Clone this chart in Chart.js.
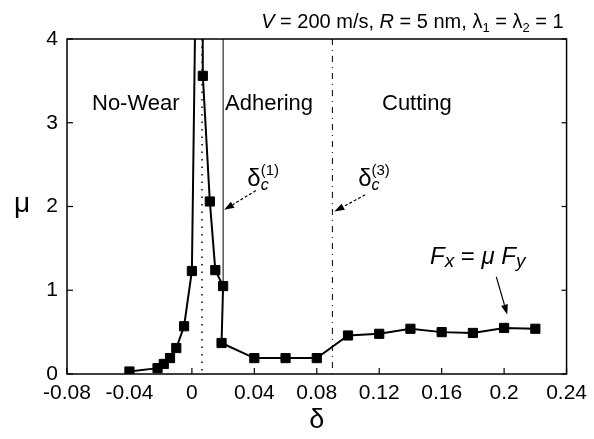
<!DOCTYPE html>
<html><head><meta charset="utf-8">
<script src="https://cdn.jsdelivr.net/npm/chart.js@4"></script>
<style>html,body{margin:0;padding:0;background:#fff}canvas{display:block}</style>
</head><body>
<canvas id="c" width="594" height="439"></canvas>
<script>
// ---- data ----
const deltaValues = [-0.04, -0.022, -0.018, -0.014, -0.01, -0.005, 0, 0.0062, 0.007, 0.0115, 0.015, 0.02, 0.019, 0.04, 0.06, 0.08, 0.1, 0.12, 0.14, 0.16, 0.18, 0.2, 0.22];
const muValues    = [0.03, 0.07, 0.12, 0.19, 0.31, 0.57, 1.23, 10.0, 3.56, 2.06, 1.24, 1.05, 0.37, 0.19, 0.19, 0.19, 0.46, 0.48, 0.54, 0.50, 0.49, 0.55, 0.54];
const xTickLabels = ['-0.08', '-0.04', '0', '0.04', '0.08', '0.12', '0.16', '0.2', '0.24'];
const yTickLabels = ['0', '1', '2', '3', '4'];
const regionLabels = ['No-Wear', 'Adhering', 'Cutting'];
const deltaNoWear = 0.0065;
const deltaC1 = 0.02;
const deltaC1Top = 1.05;
const deltaC3 = 0.09;

const FONT = '"Liberation Sans", Arial, sans-serif';

function drawRich(ctx, x, y, segs, align) {
  let w = 0;
  segs.forEach(s => { ctx.font = s.font; s.w = ctx.measureText(s.t).width; w += s.w + (s.gap || 0); });
  let cx = align === 'right' ? x - w : align === 'center' ? x - w / 2 : x;
  ctx.textBaseline = 'alphabetic';
  ctx.textAlign = 'left';
  segs.forEach(s => { ctx.font = s.font; ctx.fillText(s.t, cx, y + (s.dy || 0)); cx += s.w + (s.gap || 0); });
}
function arrow(ctx, x1, y1, x2, y2, dash) {
  const a = Math.atan2(y2 - y1, x2 - x1), L = 10, W = 3.5;
  const bx = x2 - L * Math.cos(a), by = y2 - L * Math.sin(a);
  ctx.save();
  ctx.lineWidth = 1.2;
  ctx.setLineDash(dash || []);
  ctx.beginPath(); ctx.moveTo(x1, y1); ctx.lineTo(bx, by); ctx.stroke();
  ctx.setLineDash([]);
  ctx.beginPath();
  ctx.moveTo(x2, y2);
  ctx.lineTo(bx + W * Math.sin(a), by - W * Math.cos(a));
  ctx.lineTo(bx - W * Math.sin(a), by + W * Math.cos(a));
  ctx.closePath(); ctx.fill();
  ctx.restore();
}

const decor = {
  id: 'decor',
  beforeDatasetsDraw(chart) {
    const {ctx, chartArea: ca, scales: {x, y}} = chart;
    ctx.save();
    ctx.strokeStyle = '#000';
    ctx.lineWidth = 1.5;
    ctx.setLineDash([1.5, 6]);
    let px = x.getPixelForValue(deltaNoWear);
    ctx.beginPath(); ctx.moveTo(px, ca.top); ctx.lineTo(px, ca.bottom); ctx.stroke();
    ctx.setLineDash([]);
    ctx.lineWidth = 1;
    px = x.getPixelForValue(deltaC1);
    ctx.beginPath(); ctx.moveTo(px, ca.top); ctx.lineTo(px, y.getPixelForValue(deltaC1Top)); ctx.stroke();
    ctx.setLineDash([6, 5, 1, 5]);
    px = x.getPixelForValue(deltaC3);
    ctx.beginPath(); ctx.moveTo(px, ca.top); ctx.lineTo(px, ca.bottom); ctx.stroke();
    ctx.restore();
  },
  afterDatasetsDraw(chart) {
    const {ctx, chartArea: ca, scales: {x, y}} = chart;
    ctx.save();
    ctx.fillStyle = '#000'; ctx.strokeStyle = '#000';
    ctx.lineWidth = 1.5;
    ctx.strokeRect(ca.left, ca.top, ca.right - ca.left, ca.bottom - ca.top);
    ctx.lineWidth = 1.2;
    x.ticks.forEach(t => {
      const p = x.getPixelForValue(t.value);
      ctx.beginPath(); ctx.moveTo(p, ca.bottom); ctx.lineTo(p, ca.bottom - 6); ctx.stroke();
    });
    y.ticks.forEach(t => {
      const p = y.getPixelForValue(t.value);
      ctx.beginPath(); ctx.moveTo(ca.left, p); ctx.lineTo(ca.left + 6, p); ctx.stroke();
      ctx.beginPath(); ctx.moveTo(ca.right, p); ctx.lineTo(ca.right - 5, p); ctx.stroke();
    });
    ctx.font = '28px ' + FONT; ctx.textAlign = 'center'; ctx.textBaseline = 'alphabetic';
    ctx.fillText('μ', 22, 212);
    ctx.font = '22px ' + FONT; ctx.textAlign = 'left';
    ctx.fillText(regionLabels[0], 92, 110);
    ctx.fillText(regionLabels[1], 225, 110);
    ctx.fillText(regionLabels[2], 382, 110);
    const r = '20px ' + FONT, it = 'italic 20px ' + FONT, sm = '13px ' + FONT;
    drawRich(ctx, ca.right - 3, 28, [
      {t: 'V', font: it}, {t: ' = 200 m/s, ', font: r}, {t: 'R', font: it}, {t: ' = 5 nm, λ', font: r},
      {t: '1', font: sm, dy: 4}, {t: ' = λ', font: r}, {t: '2', font: sm, dy: 4}, {t: ' = 1', font: r}
    ], 'right');
    const d = '24px ' + FONT, sup = '15px ' + FONT, sub = 'italic 16px ' + FONT;
    [[deltaC1, 0.0355, 2.25], [deltaC3, 0.1065, 2.25]].forEach(([val, lx, ly], i) => {
      const bx = x.getPixelForValue(lx), by = y.getPixelForValue(ly);
      ctx.font = d; ctx.textAlign = 'left';
      ctx.fillText('δ', bx, by);
      const dw = ctx.measureText('δ').width;
      ctx.font = sup; ctx.fillText(i === 0 ? '(1)' : '(3)', bx + dw, by - 11);
      ctx.font = sub; ctx.fillText('c', bx + dw, by + 4);
    });
    arrow(ctx, x.getPixelForValue(0.041), y.getPixelForValue(2.19), x.getPixelForValue(deltaC1) + 1, y.getPixelForValue(1.96), [3, 2]);
    arrow(ctx, x.getPixelForValue(0.111), y.getPixelForValue(2.14), x.getPixelForValue(deltaC3) + 2, y.getPixelForValue(1.94), [3, 2]);
    const fi = 'italic 24px ' + FONT, fs = 'italic 19px ' + FONT;
    drawRich(ctx, 430, 264, [
      {t: 'F', font: fi}, {t: 'x', font: fs, dy: 3}, {t: ' = ', font: '24px ' + FONT}, {t: 'μ', font: fi}, {t: ' F', font: fi}, {t: 'y', font: fs, dy: 3}
    ], 'left');
    arrow(ctx, x.getPixelForValue(0.195), y.getPixelForValue(1.16), x.getPixelForValue(0.202), y.getPixelForValue(0.71));
    ctx.restore();
  }
};

new Chart(document.getElementById('c'), {
  type: 'scatter',
  data: {
    datasets: [{
      data: deltaValues.map((v, i) => ({x: v, y: muValues[i]})),
      showLine: true,
      borderColor: '#000',
      borderWidth: 2,
      backgroundColor: '#000',
      pointStyle: 'rect',
      pointRadius: 6.5,
      pointBorderWidth: 1,
      pointBorderColor: '#000',
      tension: 0
    }]
  },
  options: {
    responsive: false,
    animation: false,
    devicePixelRatio: 1,
    layout: {padding: {left: 0, right: 24, top: 39, bottom: 0}},
    plugins: {legend: {display: false}, tooltip: {enabled: false}},
    scales: {
      x: {
        type: 'linear', min: -0.08, max: 0.24,
        afterFit(s) { s.height = 65; },
        ticks: {stepSize: 0.04, autoSkip: false, maxRotation: 0, padding: 7, color: '#000',
          font: {family: FONT, size: 21},
          callback: (v, i) => xTickLabels[i]},
        grid: {display: false, drawTicks: false},
        border: {display: false},
        title: {display: true, text: 'δ', color: '#000', font: {family: FONT, size: 27}, padding: {top: 0, bottom: 2}}
      },
      y: {
        type: 'linear', min: 0, max: 4,
        afterFit(s) { s.width = 67; },
        ticks: {stepSize: 1, padding: 9, color: '#000', font: {family: FONT, size: 21},
          callback: (v, i) => yTickLabels[i]},
        grid: {display: false, drawTicks: false},
        border: {display: false}
      }
    }
  },
  plugins: [decor]
});
</script>
</body></html>
